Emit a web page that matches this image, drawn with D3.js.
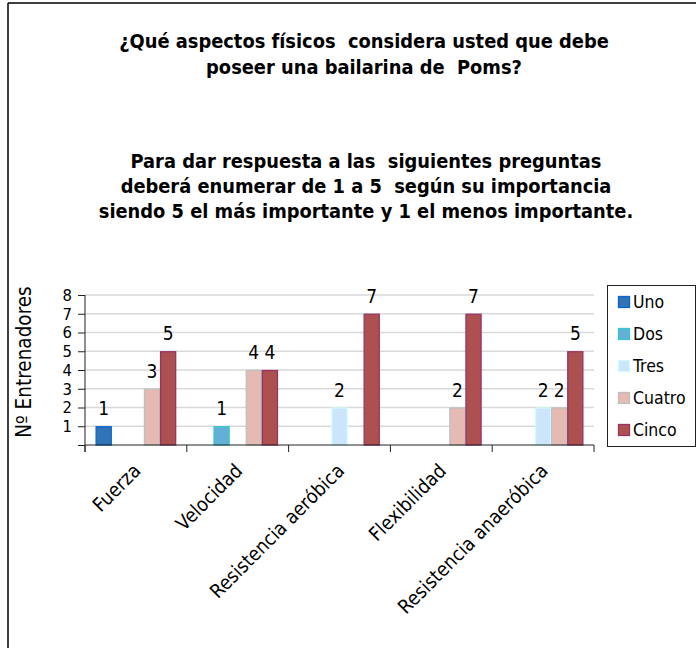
<!DOCTYPE html>
<html><head><meta charset="utf-8">
<script src="https://cdn.jsdelivr.net/npm/d3@7"></script>
<style>
html,body{margin:0;padding:0;background:#fff;}
svg text{font-family:"DejaVu Sans Condensed","DejaVu Sans",sans-serif;fill:#000;}
</style></head>
<body>
<svg id="chart" width="696" height="648"></svg>
<script>
const categories = ["Fuerza","Velocidad","Resistencia aeróbica","Flexibilidad","Resistencia anaeróbica"];
const seriesNames = ["Uno","Dos","Tres","Cuatro","Cinco"];
const uno    = [1,0,0,0,0];
const dos    = [0,1,0,0,0];
const tres   = [0,0,2,0,2];
const cuatro = [3,4,0,2,2];
const cinco  = [5,4,7,7,5];
const yTickLabels = ["1","2","3","4","5","6","7","8"];
const titleLines = ["¿Qué aspectos físicos  considera usted que debe","poseer una bailarina de  Poms?"];
const subtitleLines = ["Para dar respuesta a las  siguientes preguntas","deberá enumerar de 1 a 5  según su importancia","siendo 5 el más importante y 1 el menos importante."];
const yTitle = "Nº Entrenadores";

const seriesValues = [uno, dos, tres, cuatro, cinco];
const fills   = ["#3174b6","#63afd8","#cce5fb","#e5bab2","#ad5050"];
const strokes = ["#0a64d2","#33c8cc","#cdfcff","#bfbfbf","#993366"];

const svg = d3.select("#chart");

// frame
svg.append("line").attr("x1",8).attr("x2",696).attr("y1",3).attr("y2",3).attr("stroke","#000").attr("stroke-width",1.5);
svg.append("line").attr("x1",8).attr("x2",8).attr("y1",3).attr("y2",648).attr("stroke","#000").attr("stroke-width",1.5);

// titles with width fitting
function block(lines, cx, y0, lh, targetW){
  const g = svg.append("g");
  const t = g.selectAll("text").data(lines).join("text")
    .attr("x",cx).attr("y",(d,i)=>y0+i*lh)
    .attr("text-anchor","middle").attr("font-weight","bold").attr("font-size",18)
    .style("white-space","pre").attr("xml:space","preserve")
    .text(d=>d);
  const w = t.nodes()[0].getComputedTextLength();
  const fs = 18*targetW/w;
  t.attr("font-size",fs);
}
block(titleLines, 364, 48, 25.5, 490);
block(subtitleLines, 366, 168, 25, 471);

// scales
const x = d3.scaleBand().domain(categories).range([85,594]).paddingInner(0).paddingOuter(0);
const inner = d3.scaleBand().domain(seriesNames).range([0,x.bandwidth()]).paddingInner(0).paddingOuter(0.66);
const y = d3.scaleLinear().domain([0,8]).range([445,295]);

// gridlines
svg.append("g").selectAll("line").data(d3.range(1,9)).join("line")
  .attr("x1",85).attr("x2",594).attr("y1",d=>y(d)).attr("y2",d=>y(d))
  .attr("stroke","#d9d9d9").attr("stroke-width",1.5);

// bars
const data = [];
categories.forEach((c,ci)=>seriesNames.forEach((s,si)=>{
  const v = seriesValues[si][ci];
  if(v>0) data.push({c,s,si,v});
}));
svg.append("g").selectAll("rect").data(data).join("rect")
  .attr("x",d=>x(d.c)+inner(d.s)+0.5)
  .attr("width",inner.bandwidth()-1)
  .attr("y",d=>y(d.v)+0.5)
  .attr("height",d=>y(0)-y(d.v)-0.5)
  .attr("fill",d=>fills[d.si]).attr("stroke",d=>strokes[d.si]).attr("stroke-width",1.3);

// value labels
svg.append("g").selectAll("text").data(data).join("text")
  .attr("x",d=>x(d.c)+inner(d.s)+inner.bandwidth()/2)
  .attr("y",d=>y(d.v)-11)
  .attr("text-anchor","middle").attr("font-size",19)
  .text(d=>d.v);

// axes
const yAxis = d3.axisLeft(y).tickValues(d3.range(0,9)).tickSize(7).tickPadding(6)
  .tickFormat(d=> d===0 ? "" : yTickLabels[d-1]);
const ya = svg.append("g").attr("transform","translate(85,0)").call(yAxis);
ya.select(".domain").remove();
ya.selectAll(".tick line").attr("stroke","#222");
ya.selectAll("text").attr("font-size",16.5).attr("font-family",'"DejaVu Sans Condensed","DejaVu Sans",sans-serif').attr("fill","#000");
svg.append("line").attr("x1",85).attr("x2",85).attr("y1",295).attr("y2",452).attr("stroke","#222");
svg.append("line").attr("x1",85).attr("x2",594).attr("y1",445).attr("y2",445).attr("stroke","#222");
// category boundary ticks
const bounds = categories.map(c=>x(c)).concat([x.range()[1]]);
svg.append("g").selectAll("line").data(bounds).join("line")
  .attr("x1",d=>d).attr("x2",d=>d).attr("y1",445).attr("y2",452).attr("stroke","#222");

// x labels
svg.append("g").selectAll("text").data(categories).join("text")
  .attr("transform",d=>`translate(${x(d)+x.bandwidth()/2+6},472) rotate(-45)`)
  .attr("text-anchor","end").attr("font-size",19.5)
  .text(d=>d);

// y title
svg.append("text").attr("transform","translate(31,362) rotate(-90)")
  .attr("text-anchor","middle").attr("font-size",20.5).text(yTitle);

// legend
svg.append("rect").attr("x",607.5).attr("y",285.5).attr("width",88).attr("height",161)
  .attr("fill","#fff").attr("stroke","#222");
const lg = svg.append("g").selectAll("g").data(seriesNames).join("g")
  .attr("transform",(d,i)=>`translate(618,${302+i*32})`);
lg.append("rect").attr("x",0.5).attr("y",-5.5).attr("width",11).attr("height",11)
  .attr("fill",(d,i)=>fills[i]).attr("stroke",(d,i)=>strokes[i]).attr("stroke-width",1.3);
lg.append("text").attr("x",15).attr("y",6).attr("font-size",17.5).text(d=>d);
</script>
</body></html>
